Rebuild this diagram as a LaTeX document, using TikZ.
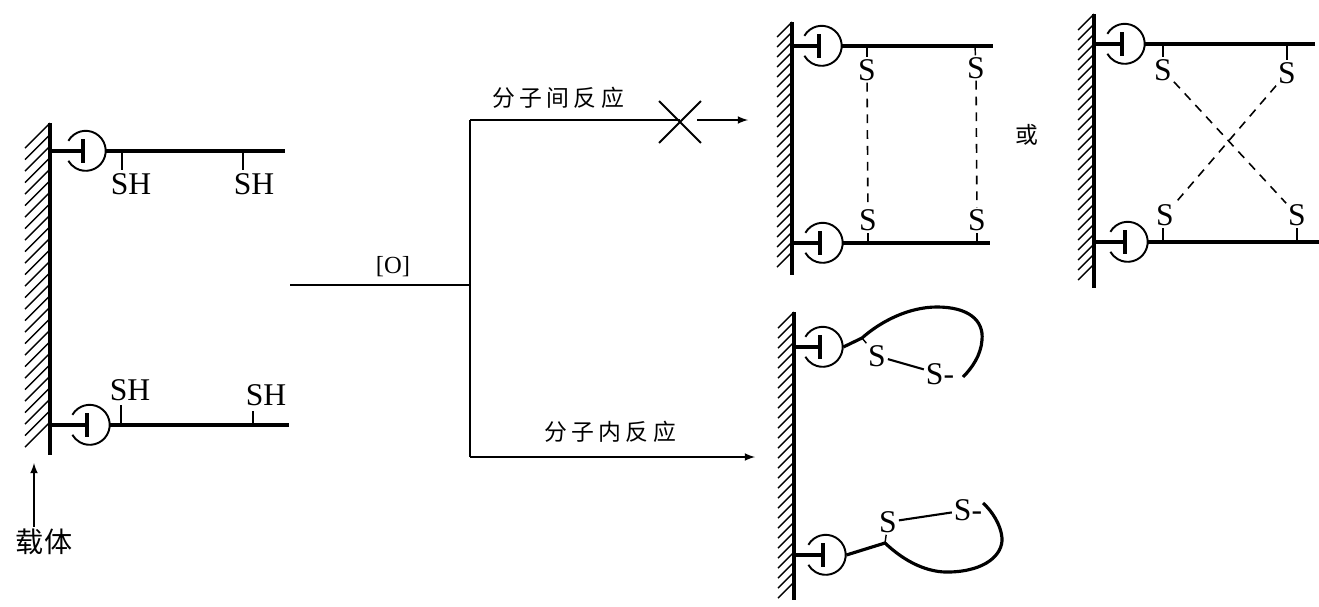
\documentclass[tikz,border=0pt]{standalone}
\usepackage{fontspec}
\setmainfont{Liberation Serif}
\newfontfamily\cjk{Noto Sans CJK SC}
\usepackage{xcolor}
\usetikzlibrary{shapes.misc}
\newcommand{\gp}{\hspace{2.5pt}}
\tikzset{
  wall/.style={line width=1.9pt},
  hatch/.style={line width=.8pt},
  chain/.style={line width=1.8pt},
  thin line/.style={line width=1pt},
  tick/.style={line width=.8pt},
  bond/.style={line width=.9pt, dash pattern=on 5pt off 4pt},
  atom/.style={inner sep=1pt, font=\fontsize{18}{20}\selectfont},
  bead/.style={circle, minimum size=.8cm, inner sep=0pt},
  lab/.style={inner sep=1pt, font=\cjk\fontsize{13}{15}\selectfont},
}
\begin{document}
\begin{tikzpicture}[x=.02cm,y=-.02cm]
\useasboundingbox (0,0) rectangle (1319,606);
% supports
\foreach \wx/\ya/\yb/\hw/\hs in {50/123/455/25/11.5, 792/22/275/15/10, 1094/14/288/16/10, 794/312/600/16/10} {
  \draw[wall] (\wx,\ya) -- (\wx,\yb);
  \pgfmathtruncatemacro\nh{(\yb-\ya-\hw)/\hs}
  \foreach \k in {0,...,\nh} \draw[hatch] (\wx,\ya+\hs*\k) -- ++(-\hw,\hw);
}
% beads with their stems
\foreach \name/\wx/\bx/\by in {a/50/86/151, b/51/90/425, c/792/822/46, d/793/823/243, e/1094/1125/44, f/1095/1128/242, g/794/823/347, h/795/826/555} {
  \node[bead] (\name) at (\bx,\by) {};
  \coordinate (\name w) at (\wx,\by);
  \coordinate (\name t) at (\bx-3,\by);
  \draw[chain] (\name w) -- (\name t);
  \draw[chain] (\bx-3,\by-12) -- (\bx-3,\by+12);
  \draw[line width=1.1pt] (\name.150) arc (-150:150:20);
}
% chains
\coordinate (a1) at (285,151);
\coordinate (b1) at (289,425);
\coordinate (c1) at (993,46);
\coordinate (d1) at (990,243);
\coordinate (e1) at (1315,44);
\coordinate (f1) at (1319,242);
\foreach \name in {a,b,c,d,e,f} \draw[chain] (\name.east) -- (\name1);
% SH groups
\node[atom] (sha) at (131,184) {SH};
\node[atom] (shb) at (254,184) {SH};
\node[atom] (shc) at (130,390) {SH};
\node[atom] (shd) at (266,395) {SH};
\draw[tick] (122,151) -- (122,170);
\draw[tick] (243,151) -- (243,170);
\draw[tick] (121,425) -- (121,405);
\draw[tick] (253,425) -- (253,411);
% carrier
\node[lab, font=\cjk\fontsize{16}{18}\selectfont] (carrier) at (44,542) {载体};
\coordinate (wallp) at (34,463);
\draw[thin line, -latex] (carrier.north -| wallp) -- (wallp);
% reaction lines
\node[inner sep=1pt, font=\fontsize{14}{16}\selectfont] (ox) at (393,267) {[O]};
\coordinate (start) at (290,285);
\coordinate (fork) at (470,285);
\coordinate (up) at (470,120);
\coordinate (down) at (470,457);
\node[draw, cross out, line width=1.1pt, minimum size=.8cm, inner sep=0pt] (no) at (680,122) {};
\coordinate (nox) at (697,120);
\coordinate (upend) at (748,120);
\coordinate (downend) at (755,457);
\draw[thin line] (start) -- (fork);
\draw[thin line, line width=1.3pt] (up) -- (down);
\draw[thin line] (up) -- (no.center |- up);
\draw[thin line, -latex] (nox) -- (upend);
\draw[thin line, -latex] (down) -- (downend);
\node[lab] (inter) at (558,98) {分\gp 子\gp 间\gp 反\gp 应};
\node[lab] (intra) at (610,432) {分\gp 子\gp 内\gp 反\gp 应};
\node[lab] (or) at (1027,135) {或};
% parallel pairs
\node[atom] (s1) at (867,70) {S};
\node[atom] (s2) at (976,68) {S};
\node[atom] (s3) at (868,220) {S};
\node[atom] (s4) at (977,220) {S};
\draw[tick] (867,46) -- (s1);
\draw[tick] (975,46) -- (s2);
\draw[tick] (868,243) -- (s3);
\draw[tick] (977,243) -- (s4);
\draw[bond] (s1) -- (s3);
\draw[bond] (s2) -- (s4);
% crossed pairs
\node[atom] (s5) at (1163,70) {S};
\node[atom] (s6) at (1287,73) {S};
\node[atom] (s7) at (1165,215) {S};
\node[atom] (s8) at (1297,215) {S};
\draw[tick] (1163,44) -- (s5);
\draw[tick] (1287,44) -- (s6);
\draw[tick] (1163,242) -- (1163,228);
\draw[tick] (1297,242) -- (s8);
\draw[bond] (s5) -- (s8);
\draw[bond] (s6) -- (s7);
% loops
\node[atom] (s9) at (877,356) {S};
\node[atom] (s10) at (940,374) {S-};
\node[atom] (s11) at (888,522) {S};
\node[atom] (s12) at (968,510) {S-};
\coordinate (gk) at (862,338);
\coordinate (hk) at (885,543);
\draw[tick, line width=1.2pt] (s9) -- (s10);
\draw[tick, line width=1.2pt] (s11) -- (s12);
\draw[tick] (gk) -- (s9);
\draw[tick] (hk) -- (s11);
\draw[chain] (g.east) -- (gk) .. controls (880,322) and (908,307) .. (937,307)
  .. controls (968,307) and (984,320) .. (982,340) .. controls (981,355) and (972,368) .. (963,377);
\draw[chain] (h.east) -- (hk) .. controls (905,562) and (928,573) .. (950,572)
  .. controls (985,571) and (1003,555) .. (1002,538) .. controls (1001,525) and (992,511) .. (983,503);
\end{tikzpicture}
\end{document}
